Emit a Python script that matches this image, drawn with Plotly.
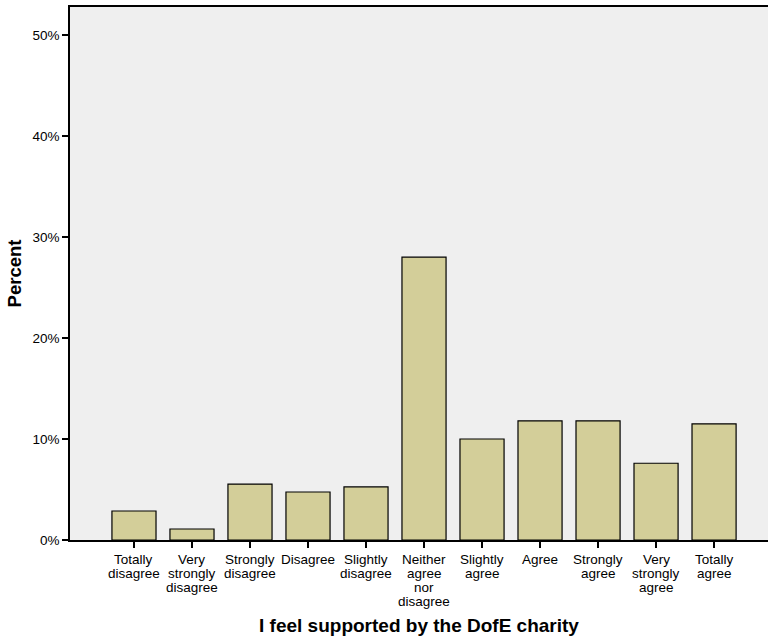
import plotly.graph_objects as go

categories = ["Totally<br>disagree", "Very<br>strongly<br>disagree", "Strongly<br>disagree",
              "Disagree", "Slightly<br>disagree", "Neither<br>agree<br>nor<br>disagree",
              "Slightly<br>agree", "Agree", "Strongly<br>agree", "Very<br>strongly<br>agree",
              "Totally<br>agree"]
percent = [2.87, 1.09, 5.54, 4.75, 5.25, 28.0, 10.0, 11.8, 11.8, 7.6, 11.5]
y_ticks = [0, 10, 20, 30, 40, 50]
y_tick_labels = ["0%", "10%", "20%", "30%", "40%", "50%"]

x_idx = list(range(len(categories)))
font = "Liberation Sans, Arial, sans-serif"

fig = go.Figure(go.Bar(
    x=x_idx, y=percent, width=0.76,
    marker=dict(color="#d3ce99", line=dict(color="#000000", width=1.2)),
    hoverinfo="skip",
))

# category labels: one annotation per text line for tight (SPSS-like) line spacing
annotations = []
for i, lab in enumerate(categories):
    for j, line in enumerate(lab.split("<br>")):
        annotations.append(dict(
            x=i, y=0, xref="x", yref="paper", text=line, showarrow=False,
            xanchor="center", yanchor="middle", yshift=-(19 + 14 * j),
            font=dict(family=font, size=13.5, color="black"),
        ))

fig.update_layout(
    width=768, height=642,
    margin=dict(l=70, r=0, t=7, b=102),
    paper_bgcolor="white", plot_bgcolor="#efefef",
    showlegend=False,
    font=dict(family=font, size=13.5, color="black"),
    annotations=annotations,
)
fig.update_xaxes(
    range=[-1.103, 10.93], tickmode="array", tickvals=x_idx, ticktext=categories,
    showticklabels=False,
    ticks="outside", ticklen=6, tickwidth=1.5, tickcolor="black",
    showline=True, linecolor="black", linewidth=2, mirror=True,
    showgrid=False, zeroline=False,
    title=dict(text="<b>I feel supported by the DofE charity</b>",
               font=dict(family=font, size=19), standoff=72),
)
fig.update_yaxes(
    range=[0, 52.77], tickmode="array", tickvals=y_ticks, ticktext=y_tick_labels,
    ticks="outside", ticklen=6, tickwidth=1.5, tickcolor="black",
    showline=True, linecolor="black", linewidth=1.5,
    showgrid=False, zeroline=False,
    tickfont=dict(family=font, size=13.5),
    title=dict(text="<b>Percent</b>", font=dict(family=font, size=18.5), standoff=6),
)

fig.write_html("out.html", config={"displayModeBar": False},
               post_script="document.body.style.margin='0';")
